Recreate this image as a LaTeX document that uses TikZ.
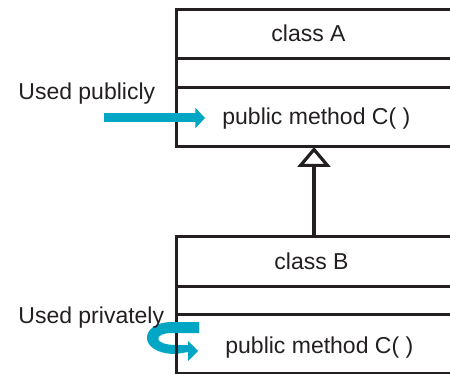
\documentclass[tikz,border=0pt]{standalone}
\usepackage{fontspec}
\setmainfont{Liberation Sans}
\usetikzlibrary{arrows.meta, positioning}
\definecolor{usedcyan}{RGB}{0, 166, 196}
\definecolor{umlink}{RGB}{35, 31, 32}

\begin{document}
\begin{tikzpicture}[x=0.5pt, y=-0.5pt,
  part/.style={draw=umlink, line width=1.5pt, minimum width=147pt, inner sep=0pt, outer sep=0pt},
  lbl/.style={inner sep=0pt, text=umlink, font=\fontsize{11.5}{14}\selectfont},
  inherit/.style={draw=umlink, line width=1.6pt, -{Triangle[open, length=10pt, width=16.5pt]}},
  usage/.style={draw=usedcyan, line width=4.5pt, -{Triangle[length=4.8pt, width=10pt]}}
]
  \useasboundingbox (0,0) rectangle (450,374);
  \clip (0,0) rectangle (450,374);

  % curl for the private call, back half goes behind the box edge
  \fill[usedcyan] (199,322) -- (172,322) .. controls (139,322) and (137,354) .. (176,354)
    -- (188,352) -- (188,361) -- (198,351) -- (188,341) -- (188,345) -- (176,345)
    .. controls (153,345) and (153,333) .. (172,333) -- (199,333) -- cycle;

  % class A
  \node[part, minimum height=24.5pt, anchor=north west] (aname) at (176,10) {};
  \node[part, minimum height=14.5pt, below=0pt of aname] (aattr) {};
  \node[part, minimum height=29.5pt, below=0pt of aattr] (amethod) {};

  % class B
  \node[part, minimum height=25pt, anchor=north west] (bname) at (176,236) {};
  \node[part, minimum height=14pt, below=0pt of bname] (battr) {};
  \node[part, minimum height=29.5pt, below=0pt of battr] (bmethod) {};

  % front half of the curl
  \fill[usedcyan] (172,322) rectangle (199,333);

  % public call
  \coordinate (pubfrom) at (104,118);
  \coordinate (pubto) at (205,118);
  \draw[usage] (pubfrom) -- (pubto);

  % B inherits from A
  \coordinate (bup) at (314,236);
  \coordinate (adown) at (314,147);
  \draw[inherit] (bup) -- (adown);

  % texts
  \node[lbl, anchor=base] (atitle) at (308.5,42) {class A};
  \node[lbl, anchor=base west] (aop) at (222,125) {public method C( )};
  \node[lbl, anchor=base] (btitle) at (311.5,269) {class B};
  \node[lbl, anchor=base west] (bop) at (225,353) {public method C( )};
  \node[lbl, anchor=base west] (pubtxt) at (18,100) {Used publicly};
  \node[lbl, anchor=base west] (privtxt) at (18,323) {Used privately};
\end{tikzpicture}
\end{document}
